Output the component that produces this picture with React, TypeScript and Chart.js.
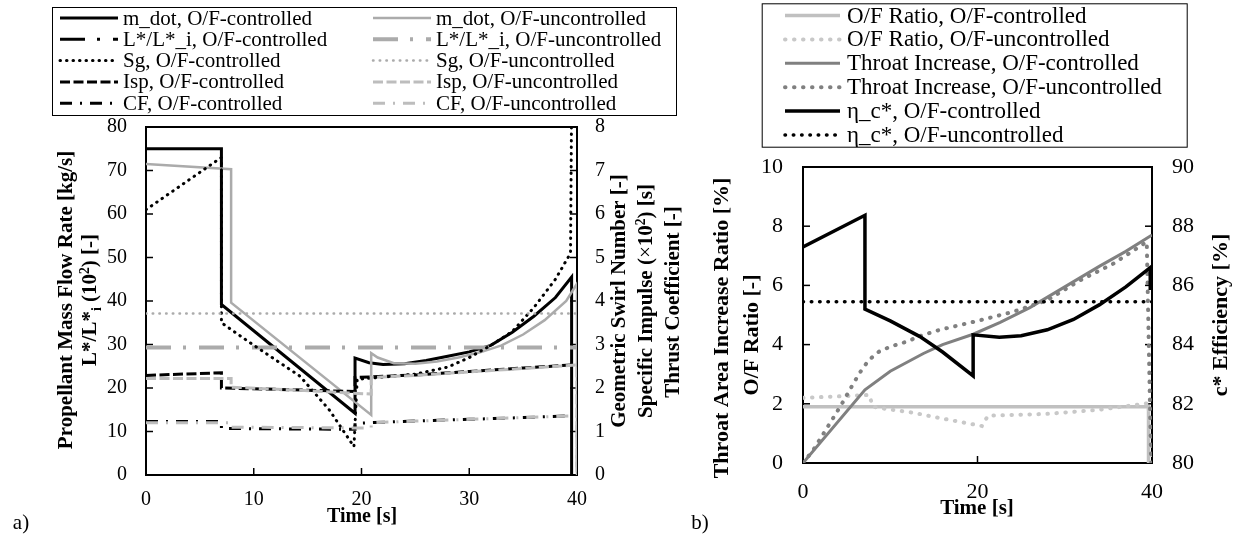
import React, { useEffect, useRef } from 'react';
import { Chart, registerables } from 'chart.js';
Chart.register(...registerables);

const FONT = "'Liberation Serif', 'Times New Roman', serif";

// ---------- Panel a data (time [s], values) ----------
const tMdotC = [0, 7.0, 7.0, 19.4, 19.4, 20.7, 22, 24, 26, 28, 30, 32, 34, 36, 38, 39.5, 39.5];
const vMdotC = [75, 75, 39.2, 14.2, 26.9, 25.8, 25.4, 25.6, 26.3, 27.3, 28.3, 29.8, 32.8, 36.5, 40.8, 45.5, 0];
const tMdotU = [0, 7.9, 7.9, 20.9, 20.9, 21.5, 23, 25, 27, 29, 31, 33, 35, 37, 39, 40, 40];
const vMdotU = [71.5, 70.3, 39.6, 13.8, 28, 27, 25.7, 25.6, 26.1, 27, 28.2, 29.8, 32.3, 35.6, 40, 44, 0];
const tLC = [0, 39.5];
const vLC = [29.3, 29.3];
const tLU = [0, 40];
const vLU = [29.3, 29.3];
const tSgC = [0, 7.0, 7.0, 9.6, 12, 14.3, 17, 18.9, 19.3, 19.6, 22, 25, 28, 30, 32, 34, 36, 38, 39.4, 39.5];
const vSgC = [6.1, 7.3, 3.5, 3.05, 2.65, 2.27, 1.5, 0.8, 0.65, 2.2, 2.25, 2.32, 2.48, 2.7, 2.98, 3.3, 3.85, 4.5, 5.1, 8.5];
const tSgU = [0, 40];
const vSgU = [3.71, 3.71];
const tIspC = [0, 7.0, 7.0, 12, 19.4, 19.4, 25, 30, 35, 39.5];
const vIspC = [2.29, 2.35, 2.0, 1.97, 1.92, 2.24, 2.3, 2.38, 2.46, 2.53];
const tIspU = [0, 7.9, 7.9, 14, 20.9, 20.9, 25, 30, 35, 40, 40];
const vIspU = [2.22, 2.22, 2.02, 1.95, 1.86, 2.24, 2.29, 2.37, 2.45, 2.53, 0];
const tCFC = [0, 7.0, 7.0, 19.4, 19.4, 25, 30, 35, 39.5];
const vCFC = [1.23, 1.23, 1.07, 1.05, 1.19, 1.24, 1.28, 1.32, 1.36];
const tCFU = [0, 7.9, 7.9, 20.9, 20.9, 25, 30, 35, 40, 40];
const vCFU = [1.2, 1.2, 1.1, 1.08, 1.2, 1.24, 1.28, 1.32, 1.36, 0];

// ---------- Panel b data ----------
const tOFC = [0, 39.6, 39.6];
const vOFC = [1.9, 1.9, 0];
const tOFU = [0, 4, 7.6, 8, 9, 12.6, 16, 20.5, 21.2, 28, 34, 39.6, 39.9];
const vOFU = [2.2, 2.25, 2.3, 1.9, 1.85, 1.7, 1.5, 1.25, 1.6, 1.66, 1.8, 2.02, 0];
const tThC = [0, 7.1, 10, 13.8, 16, 19.5, 22.6, 26, 30, 34, 37, 40];
const vThC = [0, 2.47, 3.1, 3.7, 4.0, 4.35, 4.75, 5.25, 5.95, 6.65, 7.15, 7.7];
const tThU = [0, 1.2, 3.1, 4.4, 5.8, 6.6, 7.55, 8.7, 10, 11.9, 13.4, 15.7, 20, 24, 28, 31.8, 35.6, 39.4, 39.9];
const vThU = [0, 0.45, 1.35, 1.97, 2.7, 3.09, 3.48, 3.76, 3.93, 4.1, 4.29, 4.5, 4.8, 5.1, 5.5, 6.18, 6.74, 7.47, 0];
const tEtaC = [0, 7.1, 7.1, 10, 13.4, 16, 19.5, 19.5, 22.5, 25, 28, 31, 34, 37, 39.8, 39.8, 40];
const vEtaC = [87.3, 88.37, 85.2, 84.8, 84.27, 83.75, 82.94, 84.33, 84.25, 84.3, 84.5, 84.85, 85.35, 85.95, 86.6, 85.9, 85.9];
const tEtaU = [0, 40];
const vEtaU = [85.45, 85.45];

const zip = (t: number[], v: number[]) => t.map((x, i) => ({ x, y: v[i] }));

type Seg = { t: string; s?: number; dy?: number; bold?: boolean };
type TitleCfg = { segs: Seg[]; x: number; y: number; size: number; bold: boolean; rot: boolean };
type LegendCfg = {
  box: [number, number, number, number];
  cols: number;
  rowY0: number;
  rowStep: number;
  colX: number[];
  sampleLen: number;
  textGap: number;
  size: number;
};
type TickSpec = { id: string; side: 'left' | 'right' | 'bottom'; len: number };

function drawRich(ctx: CanvasRenderingContext2D, c: TitleCfg) {
  ctx.save();
  ctx.translate(c.x, c.y);
  if (c.rot) ctx.rotate(-Math.PI / 2);
  const fontFor = (sg: Seg) =>
    `${(sg.bold ?? c.bold) ? 'bold ' : ''}${c.size * (sg.s ?? 1)}px ${FONT}`;
  let total = 0;
  for (const sg of c.segs) {
    ctx.font = fontFor(sg);
    total += ctx.measureText(sg.t).width;
  }
  let cx = -total / 2;
  ctx.textAlign = 'left';
  ctx.textBaseline = 'alphabetic';
  ctx.fillStyle = '#000';
  const base = c.size * 0.33;
  for (const sg of c.segs) {
    ctx.font = fontFor(sg);
    ctx.fillText(sg.t, cx, base + (sg.dy ?? 0) * c.size);
    cx += ctx.measureText(sg.t).width;
  }
  ctx.restore();
}

function makeDecor(name: string, titles: TitleCfg[], legend: LegendCfg, ticks: TickSpec[]) {
  return {
    id: 'decor_' + name,
    beforeDatasetsDraw(chart: any) {
      const ctx = chart.ctx as CanvasRenderingContext2D;
      const ca = chart.chartArea;
      ctx.save();
      ctx.strokeStyle = '#000';
      ctx.lineWidth = 2;
      ctx.strokeRect(ca.left, ca.top, ca.right - ca.left, ca.bottom - ca.top);
      ctx.lineWidth = 1.5;
      for (const tk of ticks) {
        const sc = chart.scales[tk.id];
        for (const t of sc.ticks) {
          const p = sc.getPixelForValue(t.value);
          ctx.beginPath();
          if (tk.side === 'bottom') {
            if (p <= ca.left + 1 || p >= ca.right - 1) continue;
            ctx.moveTo(p, ca.bottom);
            ctx.lineTo(p, ca.bottom - tk.len);
          } else {
            if (p <= ca.top + 1 || p >= ca.bottom - 1) continue;
            if (tk.side === 'left') {
              ctx.moveTo(ca.left, p);
              ctx.lineTo(ca.left + tk.len, p);
            } else {
              ctx.moveTo(ca.right, p);
              ctx.lineTo(ca.right - tk.len, p);
            }
          }
          ctx.stroke();
        }
      }
      ctx.restore();
    },
    afterDraw(chart: any) {
      const ctx = chart.ctx as CanvasRenderingContext2D;
      for (const t of titles) drawRich(ctx, t);
      ctx.save();
      const [bx, by, bw, bh] = legend.box;
      ctx.strokeStyle = '#000';
      ctx.lineWidth = 1;
      ctx.strokeRect(bx + 0.5, by + 0.5, bw, bh);
      chart.data.datasets.forEach((ds: any, i: number) => {
        const row = Math.floor(i / legend.cols);
        const col = i % legend.cols;
        const y = legend.rowY0 + row * legend.rowStep;
        const x0 = legend.colX[col];
        ctx.beginPath();
        ctx.setLineDash(ds.borderDash || []);
        ctx.lineCap = ds.borderCapStyle || 'butt';
        ctx.strokeStyle = ds.borderColor;
        ctx.lineWidth = ds.borderWidth;
        ctx.moveTo(x0, y);
        ctx.lineTo(x0 + legend.sampleLen, y);
        ctx.stroke();
        ctx.setLineDash([]);
        ctx.font = `${legend.size}px ${FONT}`;
        ctx.fillStyle = '#000';
        ctx.textAlign = 'left';
        ctx.textBaseline = 'middle';
        ctx.fillText(ds.label, x0 + legend.sampleLen + legend.textGap, y + 1);
      });
      ctx.restore();
    },
  };
}

function line(label: string, pts: any[], color: string, width: number, dash: number[], yAxisID: string, order: number, cap: string = 'butt') {
  return {
    label,
    data: pts,
    borderColor: color,
    backgroundColor: color,
    borderWidth: width,
    borderDash: dash,
    borderCapStyle: cap,
    borderJoinStyle: 'miter',
    pointRadius: 0,
    tension: 0,
    fill: false,
    yAxisID,
    order,
  };
}

const tickFont = (size: number) => ({ family: FONT, size });

function PanelA() {
  const ref = useRef<HTMLCanvasElement>(null);
  useEffect(() => {
    const W = 700;
    const black = '#000000';
    const gray = '#ababab';
    const lgray = '#bdbdbd';
    const dsets = [
      line('m_dot, O/F-controlled', zip(tMdotC, vMdotC), black, 3, [], 'y', 10),
      line('m_dot, O/F-uncontrolled', zip(tMdotU, vMdotU), gray, 2.5, [], 'y', 9),
      line('L*/L*_i, O/F-controlled', zip(tLC, vLC), black, 3, [25, 12, 3, 13], 'y', 8),
      line('L*/L*_i, O/F-uncontrolled', zip(tLU, vLU), gray, 4, [25, 12, 3, 13], 'y', 7),
      line('Sg, O/F-controlled', zip(tSgC, vSgC), black, 3, [0.5, 6], 'y1', 6, 'round'),
      line('Sg, O/F-uncontrolled', zip(tSgU, vSgU), gray, 2.5, [0.5, 6.2], 'y1', 5, 'round'),
      line('Isp, O/F-controlled', zip(tIspC, vIspC), black, 3, [10, 3.5], 'y1', 4),
      line('Isp, O/F-uncontrolled', zip(tIspU, vIspU), lgray, 3, [10, 3.5], 'y1', 3),
      line('CF, O/F-controlled', zip(tCFC, vCFC), black, 3, [12, 8, 2, 8], 'y1', 2),
      line('CF, O/F-uncontrolled', zip(tCFU, vCFU), lgray, 3, [12, 8, 2, 8], 'y1', 1),
    ];
    const titles: TitleCfg[] = [
      { segs: [{ t: 'Propellant Mass Flow Rate [kg/s]' }], x: 65, y: 300, size: 21, bold: true, rot: true },
      {
        segs: [
          { t: 'L*/L*' },
          { t: 'i', s: 0.65, dy: 0.22 },
          { t: ' (10' },
          { t: '2', s: 0.65, dy: -0.35 },
          { t: ') [-]' },
        ],
        x: 89, y: 300, size: 21, bold: true, rot: true,
      },
      { segs: [{ t: 'Geometric Swirl Number [-]' }], x: 618, y: 301, size: 21, bold: true, rot: true },
      {
        segs: [
          { t: 'Specific Impulse (' },
          { t: '×', bold: false },
          { t: '10' },
          { t: '2', s: 0.65, dy: -0.35 },
          { t: ') [s]' },
        ],
        x: 645, y: 301, size: 21, bold: true, rot: true,
      },
      { segs: [{ t: 'Thrust Coefficient [-]' }], x: 672, y: 302, size: 21, bold: true, rot: true },
      { segs: [{ t: 'Time [s]' }], x: 362, y: 515, size: 20, bold: true, rot: false },
      { segs: [{ t: 'a)' }], x: 21, y: 522, size: 21, bold: false, rot: false },
    ];
    const legend: LegendCfg = {
      box: [52, 7, 624, 108],
      cols: 2,
      rowY0: 18,
      rowStep: 21.3,
      colX: [60, 373],
      sampleLen: 58,
      textGap: 5,
      size: 21,
    };
    const ticks: TickSpec[] = [
      { id: 'x', side: 'bottom', len: 7 },
      { id: 'y', side: 'left', len: 7 },
      { id: 'y1', side: 'right', len: 7 },
    ];
    const chart = new Chart(ref.current as HTMLCanvasElement, {
      type: 'line',
      data: { datasets: dsets as any },
      options: {
        responsive: false,
        animation: false,
        layout: { padding: { top: 127, left: 0, right: 0, bottom: 0 } },
        plugins: { legend: { display: false }, tooltip: { enabled: false } },
        scales: {
          x: {
            type: 'linear', min: 0, max: 40,
            ticks: { stepSize: 10, font: tickFont(20), color: '#000', padding: 13, maxRotation: 0, autoSkip: false },
            grid: { display: false, drawTicks: false },
            border: { display: false },
            afterFit: (s: any) => { s.height = 60; },
          },
          y: {
            type: 'linear', position: 'left', min: 0, max: 80,
            ticks: { stepSize: 10, font: tickFont(20), color: '#000', padding: 19 },
            grid: { display: false, drawTicks: false },
            border: { display: false },
            afterFit: (s: any) => { s.width = 146; },
          },
          y1: {
            type: 'linear', position: 'right', min: 0, max: 8,
            ticks: { stepSize: 1, font: tickFont(20), color: '#000', padding: 18 },
            grid: { display: false, drawTicks: false },
            border: { display: false },
            afterFit: (s: any) => { s.width = W - 577; },
          },
        },
      } as any,
      plugins: [makeDecor('a', titles, legend, ticks) as any],
    });
    return () => chart.destroy();
  }, []);
  return (
    <canvas
      ref={ref}
      width={700}
      height={535}
      style={{ position: 'absolute', left: 0, top: 0, width: 700, height: 535 }}
    />
  );
}

function PanelB() {
  const ref = useRef<HTMLCanvasElement>(null);
  useEffect(() => {
    const W = 554;
    const dsets = [
      line('O/F Ratio, O/F-controlled', zip(tOFC, vOFC), '#c0c0c0', 3.5, [], 'y', 6),
      line('O/F Ratio, O/F-uncontrolled', zip(tOFU, vOFU), '#c8c8c8', 4, [0.5, 8.5], 'y', 5, 'round'),
      line('Throat Increase, O/F-controlled', zip(tThC, vThC), '#808080', 3, [], 'y', 4),
      line('Throat Increase, O/F-uncontrolled', zip(tThU, vThU), '#808080', 4, [0.5, 8.5], 'y', 3, 'round'),
      line('η_c*, O/F-controlled', zip(tEtaC, vEtaC), '#000000', 3.5, [], 'y1', 2),
      line('η_c*, O/F-uncontrolled', zip(tEtaU, vEtaU), '#000000', 3.5, [0.5, 7.8], 'y1', 1, 'round'),
    ];
    const titles: TitleCfg[] = [
      { segs: [{ t: 'Throat Area Increase Ratio [%]' }], x: 41, y: 328, size: 22, bold: true, rot: true },
      { segs: [{ t: 'O/F Ratio [-]' }], x: 71, y: 335, size: 22, bold: true, rot: true },
      { segs: [{ t: 'c* Efficiency [%]' }], x: 540, y: 315, size: 22, bold: true, rot: true },
      { segs: [{ t: 'Time [s]' }], x: 297, y: 507, size: 21, bold: true, rot: false },
      { segs: [{ t: 'b)' }], x: 20, y: 522, size: 21, bold: false, rot: false },
    ];
    const legend: LegendCfg = {
      box: [81.7, 3.3, 425, 143.4],
      cols: 1,
      rowY0: 15.5,
      rowStep: 23.9,
      colX: [105],
      sampleLen: 55,
      textGap: 7,
      size: 23,
    };
    const ticks: TickSpec[] = [
      { id: 'x', side: 'bottom', len: 7 },
      { id: 'y', side: 'left', len: 7 },
      { id: 'y1', side: 'right', len: 7 },
    ];
    const chart = new Chart(ref.current as HTMLCanvasElement, {
      type: 'line',
      data: { datasets: dsets as any },
      options: {
        responsive: false,
        animation: false,
        layout: { padding: { top: 167, left: 0, right: 0, bottom: 0 } },
        plugins: { legend: { display: false }, tooltip: { enabled: false } },
        scales: {
          x: {
            type: 'linear', min: 0, max: 40,
            ticks: { stepSize: 20, font: tickFont(22), color: '#000', padding: 16, maxRotation: 0, autoSkip: false },
            grid: { display: false, drawTicks: false },
            border: { display: false },
            afterFit: (s: any) => { s.height = 72; },
          },
          y: {
            type: 'linear', position: 'left', min: 0, max: 10,
            ticks: { stepSize: 2, font: tickFont(22), color: '#000', padding: 20 },
            grid: { display: false, drawTicks: false },
            border: { display: false },
            afterFit: (s: any) => { s.width = 123; },
          },
          y1: {
            type: 'linear', position: 'right', min: 80, max: 90,
            ticks: { stepSize: 2, font: tickFont(22), color: '#000', padding: 20 },
            grid: { display: false, drawTicks: false },
            border: { display: false },
            afterFit: (s: any) => { s.width = W - 472; },
          },
        },
      } as any,
      plugins: [makeDecor('b', titles, legend, ticks) as any],
    });
    return () => chart.destroy();
  }, []);
  return (
    <canvas
      ref={ref}
      width={554}
      height={535}
      style={{ position: 'absolute', left: 680, top: 0, width: 554, height: 535 }}
    />
  );
}

export default function App() {
  return (
    <div style={{ position: 'absolute', left: 0, top: 0, width: 1234, height: 535, background: '#fff', overflow: 'hidden' }}>
      <PanelA />
      <PanelB />
    </div>
  );
}
